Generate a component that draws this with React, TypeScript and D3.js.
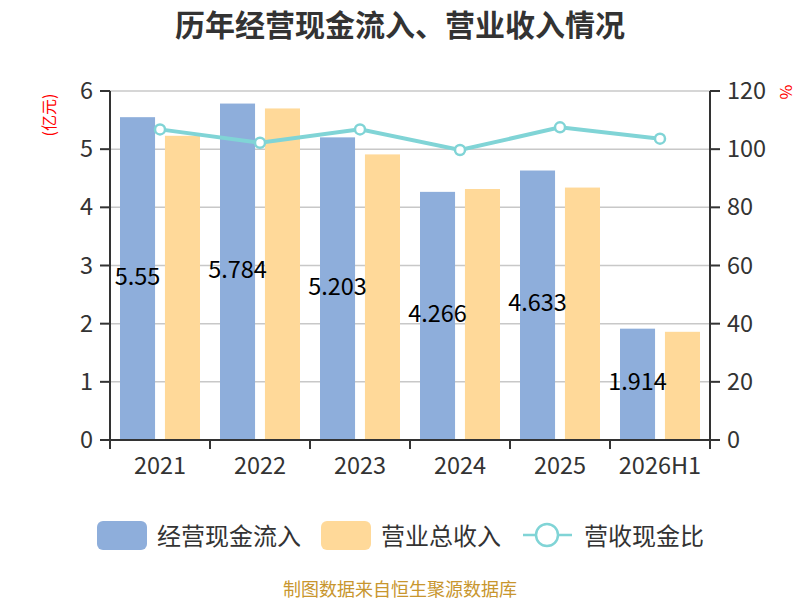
import React from 'react';
import * as d3 from 'd3';

const categories = ['2021', '2022', '2023', '2024', '2025', '2026H1'];
const cashInflow = [5.55, 5.784, 5.203, 4.266, 4.633, 1.914];
const revenue = [5.23, 5.7, 4.91, 4.315, 4.34, 1.86];
const ratio = [106.8, 102.2, 106.8, 99.7, 107.5, 103.6];
const leftTicks = [0, 1, 2, 3, 4, 5, 6];
const rightTicks = [0, 20, 40, 60, 80, 100, 120];

const BLUE = '#8eaedb';
const ORANGE = '#ffd999';
const TEAL = '#80d4d6';
const FONT = '"Noto Sans CJK SC", "Noto Sans", sans-serif';

const App: React.FC = () => {
  const width = 800;
  const height = 600;
  const margin = { top: 91, right: 90, bottom: 160, left: 110 };
  const x0 = margin.left;
  const x1 = width - margin.right;
  const y0 = height - margin.bottom;
  const y1 = margin.top;

  const xScale = d3.scaleBand<string>().domain(categories).range([x0, x1]);
  const inner = d3.scaleBand<string>()
    .domain(['cash', 'rev'])
    .range([10, xScale.bandwidth() - 10])
    .paddingInner(0.22);
  const yLeft = d3.scaleLinear().domain([0, 6]).range([y0, y1]);
  const yRight = d3.scaleLinear().domain([0, 120]).range([y0, y1]);

  const line = d3.line<number>()
    .x((_, i) => (xScale(categories[i]) as number) + xScale.bandwidth() / 2)
    .y(d => yRight(d));

  return (
    <div style={{ position: 'absolute', left: 0, top: 0 }}>
      <svg width={width} height={height} style={{ display: 'block', fontFamily: FONT }}>
        <rect width={width} height={height} fill="#fff" />
        <text x={400} y={23} textAnchor="middle" dominantBaseline="central"
          fontSize={30} fontWeight="bold" fill="#333">
          历年经营现金流入、营业收入情况
        </text>

        {/* grid */}
        {leftTicks.slice(1).map(t => (
          <line key={t} x1={x0} x2={x1} y1={yLeft(t)} y2={yLeft(t)} stroke="#c8c8c8" strokeWidth={1.5} />
        ))}

        {/* bars */}
        {categories.map((c, i) => {
          const bx = xScale(c) as number;
          return (
            <g key={c}>
              <rect x={bx + (inner('cash') as number)} y={yLeft(cashInflow[i])}
                width={inner.bandwidth()} height={y0 - yLeft(cashInflow[i])} fill={BLUE} />
              <rect x={bx + (inner('rev') as number)} y={yLeft(revenue[i])}
                width={inner.bandwidth()} height={y0 - yLeft(revenue[i])} fill={ORANGE} />
            </g>
          );
        })}

        {/* ratio line */}
        <path d={line(ratio) || ''} fill="none" stroke={TEAL} strokeWidth={4} />
        {ratio.map((v, i) => (
          <circle key={i} cx={(xScale(categories[i]) as number) + xScale.bandwidth() / 2}
            cy={yRight(v)} r={5} fill="#fff" stroke={TEAL} strokeWidth={2.5} />
        ))}

        {/* data labels */}
        {categories.map((c, i) => (
          <text key={c} x={(xScale(c) as number) + (inner('cash') as number) + inner.bandwidth() / 2}
            y={(yLeft(cashInflow[i]) + y0) / 2 - 4} textAnchor="middle" dominantBaseline="central"
            fontSize={23.5} fill="#000">
            {String(cashInflow[i])}
          </text>
        ))}

        {/* left axis */}
        <line x1={x0} x2={x0} y1={y1} y2={y0} stroke="#333" strokeWidth={2} />
        {leftTicks.map(t => (
          <g key={t}>
            <line x1={x0 - 10} x2={x0} y1={yLeft(t)} y2={yLeft(t)} stroke="#333" strokeWidth={2} />
            <text x={x0 - 17} y={yLeft(t) - 2} textAnchor="end" dominantBaseline="central"
              fontSize={23.5} fill="#333">{t}</text>
          </g>
        ))}
        <text transform={`translate(48,115) rotate(-90)`} textAnchor="middle" dominantBaseline="central"
          fontSize={16} fill="#ff0000">(亿元)</text>

        {/* right axis */}
        <line x1={x1} x2={x1} y1={y1} y2={y0} stroke="#333" strokeWidth={2} />
        {rightTicks.map(t => (
          <g key={t}>
            <line x1={x1} x2={x1 + 10} y1={yRight(t)} y2={yRight(t)} stroke="#333" strokeWidth={2} />
            <text x={x1 + 17} y={yRight(t) - 2} textAnchor="start" dominantBaseline="central"
              fontSize={23.5} fill="#333">{t}</text>
          </g>
        ))}
        <text transform={`translate(787,92) rotate(90)`} textAnchor="middle" dominantBaseline="central"
          fontSize={16} fill="#ff0000">%</text>

        {/* x axis */}
        <line x1={x0} x2={x1} y1={y0} y2={y0} stroke="#333" strokeWidth={2} />
        {[...categories.map(c => xScale(c) as number), x1].map((tx, i) => (
          <line key={i} x1={tx} x2={tx} y1={y0} y2={y0 + 9} stroke="#333" strokeWidth={2} />
        ))}
        {categories.map(c => (
          <text key={c} x={(xScale(c) as number) + xScale.bandwidth() / 2} y={464}
            textAnchor="middle" dominantBaseline="central" fontSize={23.5} fill="#333">{c}</text>
        ))}

        {/* legend */}
        <rect x={97} y={521} width={50} height={29} rx={6} fill={BLUE} />
        <text x={157} y={534} dominantBaseline="central" fontSize={24} fill="#333">经营现金流入</text>
        <rect x={321} y={521} width={50} height={29} rx={6} fill={ORANGE} />
        <text x={381} y={534} dominantBaseline="central" fontSize={24} fill="#333">营业总收入</text>
        <line x1={523} x2={572} y1={535} y2={535} stroke={TEAL} strokeWidth={2.5} />
        <circle cx={547} cy={535} r={11} fill="#fff" stroke={TEAL} strokeWidth={2.5} />
        <text x={584} y={534} dominantBaseline="central" fontSize={24} fill="#333">营收现金比</text>

        <text x={400} y={588} textAnchor="middle" dominantBaseline="central"
          fontSize={18} fill="#c8962e">制图数据来自恒生聚源数据库</text>
      </svg>
    </div>
  );
};

export default App;
